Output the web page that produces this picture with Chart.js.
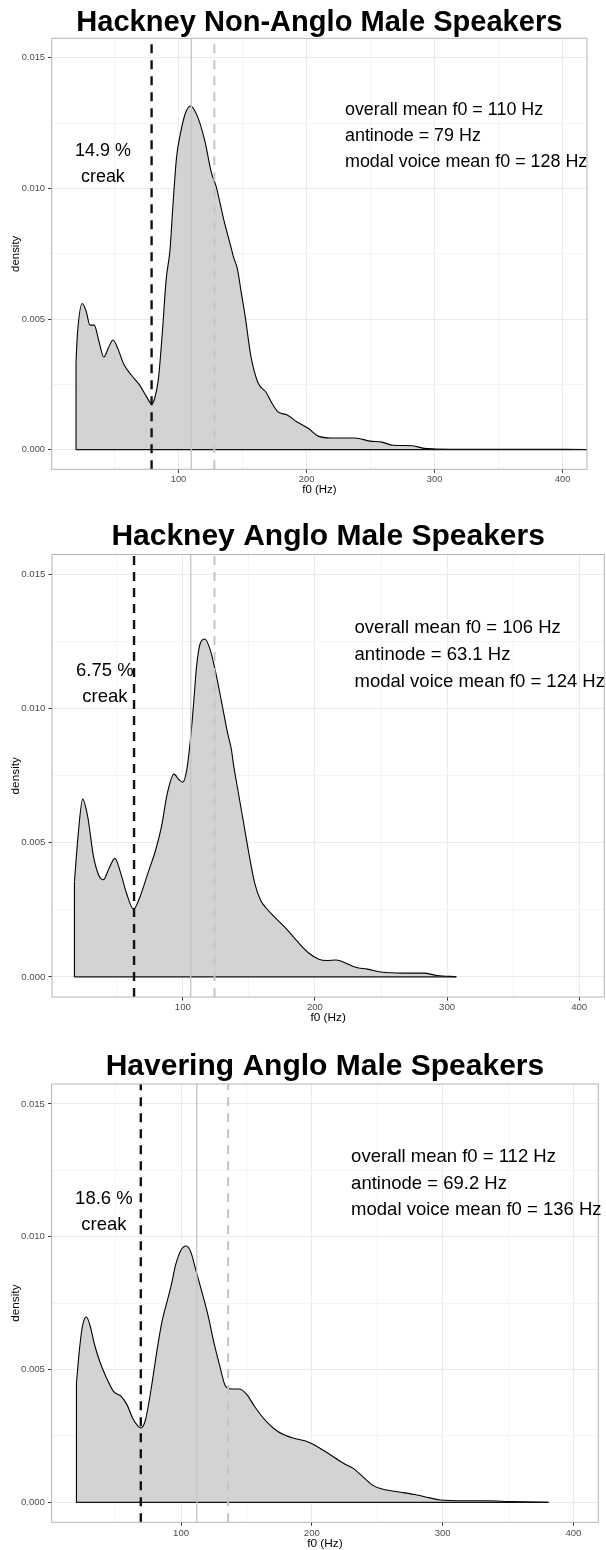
<!DOCTYPE html>
<html>
<head>
<meta charset="utf-8">
<script src="https://cdn.jsdelivr.net/npm/chart.js@4.4.1/dist/chart.umd.min.js"></script>
<style>
html, body { margin: 0; padding: 0; background: #fff; }
body { width: 606px; height: 1550px; position: relative; overflow: hidden; }
canvas { position: absolute; left: 0; }
</style>
</head>
<body>
<canvas id="c0" width="606" height="505" style="top:0px"></canvas>
<canvas id="c1" width="606" height="530" style="top:505px"></canvas>
<canvas id="c2" width="606" height="530" style="top:1035px"></canvas>
<script>
// panel titles and summary numbers
var panelTitles = ["Hackney Non-Anglo Male Speakers", "Hackney Anglo Male Speakers", "Havering Anglo Male Speakers"];
var overallMean = [110, 106, 112];
var antinode = [79, 63.1, 69.2];
var modalMean = [128, 124, 136];
var creakPct = ["14.9 %", "6.75 %", "18.6 %"];

// axes
var xTicks = [100, 200, 300, 400];
var xMinor = [50, 150, 250, 350];
var yTicks = [0, 0.005, 0.010, 0.015];
var yMinor = [0.0025, 0.0075, 0.0125];
var xLimits = [1, 419];
var yLimits = [-0.00075, 0.01575];

// density curves
var nonAngloF0 = [20, 21.2, 24.9, 27.9, 30.9, 34.2, 37.8, 41.7, 45.3, 48.9, 52.8, 57.3, 63.3, 69.3, 74.7, 79, 81.4, 84.3, 87.4, 90.4, 93.4, 96, 98.5, 101.5, 105.4, 109.3, 114.4, 120.4, 125.8, 129.4, 135.4, 141.5, 143, 146, 149, 152, 156.5, 162, 168.5, 173, 177.5, 185, 192.6, 201.6, 209, 219.6, 237.6, 249.6, 258.7, 267.7, 282.7, 291.7, 300.7, 330, 370, 419];
var nonAngloDensity = [0.0034, 0.0045, 0.0056, 0.0053, 0.00477, 0.00477, 0.00417, 0.00355, 0.0039, 0.0042, 0.00385, 0.00327, 0.00285, 0.0025, 0.00206, 0.00176, 0.00196, 0.0027, 0.00449, 0.00653, 0.00766, 0.0096, 0.0112, 0.0121, 0.01288, 0.01316, 0.01281, 0.01186, 0.01059, 0.01008, 0.0088, 0.00766, 0.00737, 0.00692, 0.00602, 0.00513, 0.00359, 0.00257, 0.00219, 0.00178, 0.00146, 0.00133, 0.00106, 0.00081, 0.00052, 0.00045, 0.00045, 0.00033, 0.00029, 0.00017, 0.00015, 0.00005, 0.00003, 0.00002, 0.00002, 0.00001];

var angloF0 = [18, 20.7, 24.2, 28, 32.4, 36.3, 39.8, 44.2, 48.6, 53, 57.4, 62.7, 67.7, 73.6, 79.5, 83.9, 88.3, 93.3, 97.1, 100, 103, 105, 107, 108.5, 110.4, 113.3, 116.8, 120.7, 125, 129.5, 133.9, 136.8, 138.2, 141.2, 145.6, 150, 154.4, 158.8, 163.2, 169.1, 177.9, 186.7, 195.5, 202.9, 208.8, 216.1, 223.5, 230.8, 239.6, 251.4, 266.1, 282.3, 292.6, 307];
var angloDensity = [0.00356, 0.00524, 0.00663, 0.00598, 0.00449, 0.0038, 0.00362, 0.00405, 0.00442, 0.00387, 0.00312, 0.00252, 0.003, 0.00387, 0.00474, 0.00561, 0.00685, 0.00756, 0.00735, 0.00726, 0.00772, 0.0085, 0.0095, 0.0104, 0.01158, 0.01245, 0.0126, 0.0122, 0.01133, 0.01021, 0.00909, 0.00847, 0.00797, 0.0071, 0.00586, 0.00461, 0.0035, 0.00287, 0.00256, 0.00225, 0.00182, 0.00132, 0.00088, 0.00066, 0.00061, 0.00063, 0.00051, 0.00036, 0.00029, 0.00017, 0.00014, 0.00014, 0.00005, 0.00001];

var haveringF0 = [20, 22.3, 24.6, 27.6, 30.5, 33.5, 37.3, 42.4, 48.3, 54.2, 58.6, 63, 66.9, 69.4, 72.8, 77, 81.7, 85.2, 89.7, 92.6, 95.6, 100, 103.9, 107.4, 111.3, 115.5, 120.7, 125.1, 129.6, 134, 138.4, 144.3, 150.3, 156.2, 165.1, 174, 185.7, 194.6, 200.5, 212.3, 224.2, 231.6, 238.9, 246.3, 253.7, 265.5, 280.3, 289.2, 298.1, 315.8, 333.5, 351.3, 381];
var haveringDensity = [0.0045, 0.00576, 0.00664, 0.00698, 0.00664, 0.006, 0.00538, 0.00475, 0.00418, 0.00399, 0.00368, 0.00317, 0.00288, 0.0028, 0.00311, 0.00424, 0.00576, 0.00676, 0.00764, 0.0082, 0.0089, 0.0095, 0.00965, 0.00943, 0.00874, 0.008, 0.00702, 0.00601, 0.00513, 0.00437, 0.00427, 0.00427, 0.00406, 0.00361, 0.00305, 0.00267, 0.00242, 0.00232, 0.0022, 0.00185, 0.00147, 0.00128, 0.00097, 0.00065, 0.0005, 0.0004, 0.00028, 0.00018, 0.00009, 0.00006, 0.00006, 0.00003, 0];

var curves = [[nonAngloF0, nonAngloDensity], [angloF0, angloDensity], [haveringF0, haveringDensity]];

// page geometry of each panel (page pixels)
var frames = [
  { top: 0, left: 51.7, right: 587, plotTop: 38.3, plotBottom: 469.3, titleY: 22.5, s: 0.969 },
  { top: 505, left: 52, right: 604.3, plotTop: 554.5, plotBottom: 997, titleY: 536.3, s: 1 },
  { top: 1035, left: 51.6, right: 598.3, plotTop: 1084, plotBottom: 1522.3, titleY: 1066.3, s: 1 }
];

var FONT = '"Liberation Sans", Arial, Helvetica, sans-serif';
var X_AXIS_H = 34;

var panelDecor = {
  id: "panelDecor",
  afterDatasetsDraw: function (chart, args, o) {
    var ctx = chart.ctx, a = chart.chartArea, x = chart.scales.x, y = chart.scales.y;
    ctx.save();
    ctx.strokeStyle = "#b3b3b3";
    ctx.lineWidth = 1;
    ctx.strokeRect(a.left, a.top, a.right - a.left, a.bottom - a.top);

    ctx.fillStyle = "#000";
    ctx.textBaseline = "middle";
    ctx.font = (18.5 * o.s) + "px " + FONT;
    ctx.textAlign = "left";
    var lines = [
      "overall mean f0 = " + overallMean[o.i] + " Hz",
      "antinode = " + antinode[o.i] + " Hz",
      "modal voice mean f0 = " + modalMean[o.i] + " Hz"
    ];
    var rowsY = [0.013, 0.012, 0.011];
    for (var k = 0; k < lines.length; k++) {
      ctx.fillText(lines[k], x.getPixelForValue(230), y.getPixelForValue(rowsY[k]));
    }
    ctx.textAlign = "center";
    ctx.fillText(creakPct[o.i], x.getPixelForValue(41), y.getPixelForValue(0.01142));
    ctx.fillText("creak", x.getPixelForValue(41), y.getPixelForValue(0.01044));

    ctx.font = "bold " + (30 * o.s) + "px " + FONT;
    ctx.fillText(panelTitles[o.i], (a.left + a.right) / 2, o.titleY);
    ctx.restore();
  }
};

function vline(xv, color, width, dash) {
  return {
    data: [{ x: xv, y: yLimits[0] }, { x: xv, y: yLimits[1] }],
    borderColor: color, borderWidth: width, borderDash: dash,
    pointRadius: 0, fill: false, tension: 0, order: 0
  };
}

function drawPanel(i) {
  var f = frames[i];
  var s = f.s;
  var cv = document.getElementById("c" + i);
  var f0 = curves[i][0], dens = curves[i][1];
  var last = f0.length - 1;
  var xGrid = xMinor.concat(xTicks).sort(function (a, b) { return a - b; });
  var yGrid = yMinor.concat(yTicks).sort(function (a, b) { return a - b; });
  var plotBottomRel = f.plotBottom - f.top;
  var titleSize = 11.8 * s;
  var tickSize = 9.6 * s;

  new Chart(cv, {
    type: "line",
    data: {
      datasets: [
        vline(antinode[i], "#111", 2.4, [9, 7]),
        vline(overallMean[i], "#c4c4c4", 1.3, []),
        vline(modalMean[i], "#c4c4c4", 2, [9, 7]),
        {
          data: [{ x: f0[0], y: 0 }, { x: f0[0], y: dens[0] }],
          borderColor: "#000", borderWidth: 1.1, pointRadius: 0, fill: false, tension: 0, order: 1
        },
        {
          data: [{ x: f0[0], y: 0 }, { x: f0[last], y: 0 }],
          borderColor: "#111", borderWidth: 1.3, pointRadius: 0, fill: false, tension: 0, order: 1
        },
        {
          data: f0.map(function (v, k) { return { x: v, y: dens[k] }; }),
          borderColor: "#000", borderWidth: 1.1, backgroundColor: "#d3d3d3",
          fill: "origin", cubicInterpolationMode: "monotone", pointRadius: 0, order: 2
        }
      ]
    },
    options: {
      responsive: false,
      animation: false,
      events: [],
      layout: {
        padding: {
          left: 0,
          right: 606 - f.right,
          top: f.plotTop - f.top,
          bottom: cv.height - plotBottomRel - X_AXIS_H
        }
      },
      plugins: {
        legend: { display: false },
        tooltip: { enabled: false },
        panelDecor: { i: i, s: s, titleY: f.titleY - f.top }
      },
      scales: {
        x: {
          type: "linear",
          min: xLimits[0],
          max: xLimits[1],
          afterBuildTicks: function (sc) { sc.ticks = xGrid.map(function (v) { return { value: v }; }); },
          afterFit: function (sc) { sc.height = X_AXIS_H; },
          ticks: {
            autoSkip: false, maxRotation: 0, padding: 1.3,
            color: "#4d4d4d", font: { family: FONT, size: tickSize },
            callback: function (v) { return xTicks.indexOf(v) >= 0 ? String(v) : ""; }
          },
          grid: {
            color: function (c) { return xTicks.indexOf(c.tick.value) >= 0 ? "#ebebeb" : "#f4f4f4"; },
            lineWidth: 1,
            tickLength: 3.5,
            tickWidth: 1,
            tickColor: function (c) { return xTicks.indexOf(c.tick.value) >= 0 ? "#333" : "rgba(0,0,0,0)"; }
          },
          border: { display: false },
          title: {
            display: true, text: "f0 (Hz)", color: "#000",
            font: { family: FONT, size: titleSize, lineHeight: 1.2 },
            padding: { top: 0, bottom: X_AXIS_H - 21 * s - titleSize * 0.6 }
          }
        },
        y: {
          type: "linear",
          min: yLimits[0],
          max: yLimits[1],
          afterBuildTicks: function (sc) { sc.ticks = yGrid.map(function (v) { return { value: v }; }); },
          afterFit: function (sc) { sc.width = f.left; },
          ticks: {
            autoSkip: false, padding: 3.2,
            color: "#4d4d4d", font: { family: FONT, size: tickSize },
            callback: function (v) { return yTicks.indexOf(v) >= 0 ? v.toFixed(3) : ""; }
          },
          grid: {
            color: function (c) { return yTicks.indexOf(c.tick.value) >= 0 ? "#ebebeb" : "#f4f4f4"; },
            lineWidth: 1,
            tickLength: 3.5,
            tickWidth: 1,
            tickColor: function (c) { return yTicks.indexOf(c.tick.value) >= 0 ? "#333" : "rgba(0,0,0,0)"; }
          },
          border: { display: false },
          title: {
            display: true, text: "density", color: "#000",
            font: { family: FONT, size: titleSize, lineHeight: 1.2 },
            padding: { top: 15.5 - titleSize * 0.6, bottom: 0 }
          }
        }
      }
    },
    plugins: [panelDecor]
  });
}

for (var i = 0; i < 3; i++) drawPanel(i);
</script>
</body>
</html>
